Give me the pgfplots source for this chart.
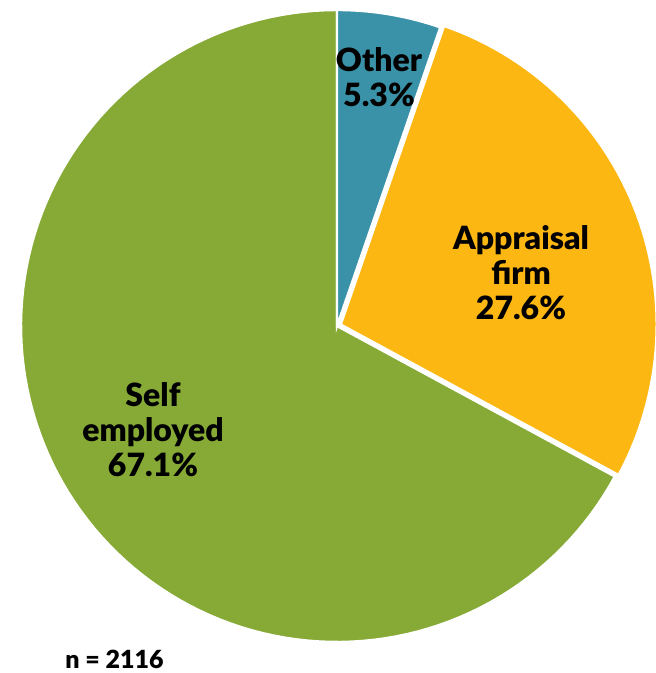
\documentclass[border=0pt]{standalone}
\usepackage{fontspec}
\setmainfont{Lato}[BoldFont={Lato Black}]
\usepackage{pgfplots}
\pgfplotsset{compat=1.18}
\usepackage{pgfplotstable}
\definecolor{cOther}{RGB}{58,146,168}
\definecolor{cAppr}{RGB}{253,183,19}
\definecolor{cSelf}{RGB}{134,170,53}
\pgfplotstableread{
label value
Other 5.3
Appraisal 27.6
Self 67.1
}\piedata
\begin{document}
\begin{tikzpicture}
\pgfplotstablegetelem{0}{value}\of\piedata \let\vA\pgfplotsretval
\pgfplotstablegetelem{1}{value}\of\piedata \let\vB\pgfplotsretval
\pgfplotstablegetelem{2}{value}\of\piedata \let\vC\pgfplotsretval
\pgfmathsetmacro\aA{90-3.6*\vA}
\pgfmathsetmacro\aB{\aA-3.6*\vB}
\pgfmathsetmacro\aC{\aB-3.6*\vC}
\pgfmathsetmacro\midB{(\aA+\aB)/2}
\pgfmathsetmacro\exX{337+4*cos(\midB)}
\pgfmathsetmacro\exY{347+4*sin(\midB)}
\path[use as bounding box] (0,0) rectangle (328pt,336.5pt);
\begin{axis}[at={(0,0)}, anchor=south west, scale only axis,
  width=328pt, height=336.5pt, xmin=0, xmax=656, ymin=0, ymax=673,
  hide axis, clip=false]
\addplot[fill=cSelf, draw=white, line width=1.2pt, domain=\aC:\aB, samples=120, variable=\t]
  ({337+316*cos(t)},{347+316*sin(t)}) -- (axis cs:337,347) -- cycle;
\addplot[fill=cAppr, draw=white, line width=1.2pt, domain=\aB:\aA, samples=60, variable=\t]
  ({\exX+316*cos(t)},{\exY+316*sin(t)}) -- (axis cs:\exX,\exY) -- cycle;
\addplot[fill=cOther, draw=white, line width=1.2pt, domain=\aA:90, samples=20, variable=\t]
  ({337+316*cos(t)},{347+316*sin(t)}) -- (axis cs:337,347) -- cycle;
\node[align=center, font=\bfseries\fontsize{16}{17.5}\selectfont] at (axis cs:379,596) {Other\\5.3\%};
\node[align=center, font=\bfseries\fontsize{16}{17.5}\selectfont] at (axis cs:521,400) {Appraisal\\firm\\27.6\%};
\node[align=center, font=\bfseries\fontsize{16}{17.5}\selectfont] at (axis cs:153,243) {Self\\employed\\67.1\%};
\node[anchor=west, font=\bfseries\fontsize{12.5}{14}\selectfont, inner sep=0pt] at (axis cs:65,14) {n = 2116};
\end{axis}
\end{tikzpicture}
\end{document}
